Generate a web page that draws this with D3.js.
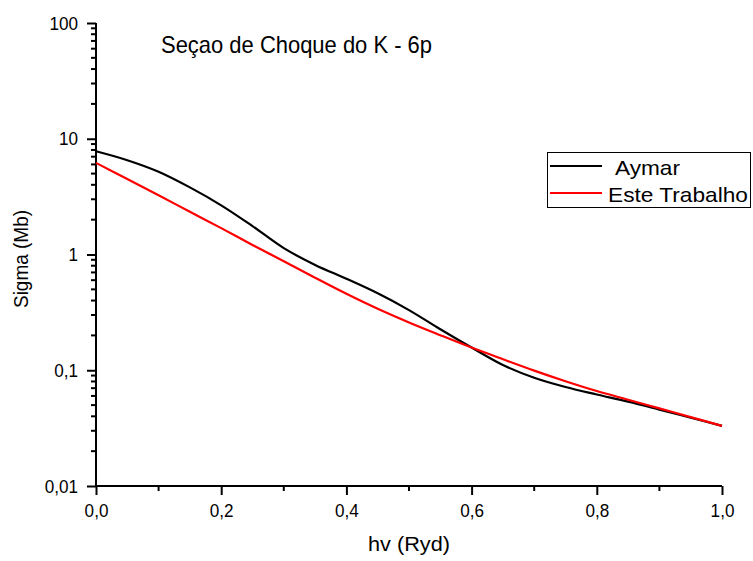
<!DOCTYPE html>
<html>
<head>
<meta charset="utf-8">
<script src="https://cdn.jsdelivr.net/npm/d3@7"></script>
<style>
  body { margin: 0; background: #fff; }
  #viz_container { width: 753px; height: 561px; }
  text { font-family: "Liberation Sans", Arial, sans-serif; fill: #000; }
</style>
</head>
<body>
<div id="viz_container"></div>
<script>
// photon energy (Ryd)
const hv = [0, 0.05, 0.1, 0.15, 0.2, 0.25, 0.3, 0.35, 0.4, 0.45, 0.5,
  0.55, 0.6, 0.65, 0.7, 0.75, 0.8, 0.85, 0.9, 0.95, 1.0];
// cross section (Mb)
const aymar = [7.8, 6.53, 5.19, 3.8, 2.66, 1.76, 1.135, 0.813, 0.617, 0.462, 0.331,
  0.226, 0.157, 0.111, 0.0861, 0.0716, 0.0617, 0.0535, 0.0457, 0.0389, 0.0331];
const esteTrabalho = [6.19, 4.49, 3.25, 2.34, 1.69, 1.21, 0.873, 0.63, 0.458, 0.34, 0.259,
  0.201, 0.157, 0.1245, 0.0993, 0.0804, 0.0661, 0.0556, 0.0468, 0.0394, 0.0331];
const seriesNames = ["Aymar", "Este Trabalho"];
const xTickValues = [0, 0.2, 0.4, 0.6, 0.8, 1.0];
const xMinorValues = [0.1, 0.3, 0.5, 0.7, 0.9];
const yTickValues = [0.01, 0.1, 1, 10, 100];

const width = 753;
const height = 561;
const margin = { left: 96, right: 31, top: 23, bottom: 75 };

const svg = d3
  .select("#viz_container")
  .append("svg")
  .attr("width", width)
  .attr("height", height);

const x = d3.scaleLinear().domain([0, 1]).range([margin.left, width - margin.right]);
const y = d3.scaleLog().domain([0.01, 100]).range([height - margin.bottom, margin.top]);

// squeeze / stretch text horizontally to match the original's lettering
function fitText(sel, factor) {
  sel.each(function () {
    const w = this.getComputedTextLength();
    d3.select(this).attr("textLength", w * factor).attr("lengthAdjust", "spacingAndGlyphs");
  });
}

// minor ticks on log axis: 2..9 in each decade
const yMinor = [];
for (let p = -2; p < 2; p++) {
  for (let k = 2; k <= 9; k++) yMinor.push(k * Math.pow(10, p));
}

// x axis
const gx = svg.append("g").attr("transform", `translate(0,${y(0.01)})`);
gx.call(
  d3.axisBottom(x).tickValues(xTickValues).tickSize(9).tickPadding(9)
    .tickFormat((d) => d3.format(".1f")(d).replace(".", ","))
);
gx.append("g").selectAll("line").data(xMinorValues).enter().append("line")
  .attr("x1", (d) => x(d)).attr("x2", (d) => x(d))
  .attr("y1", 0).attr("y2", 5)
  .attr("stroke", "#000").attr("stroke-width", 2);

// y axis
const gy = svg.append("g").attr("transform", `translate(${x(0)},0)`);
gy.call(
  d3.axisLeft(y).tickValues(yTickValues).tickSize(9).tickPadding(9)
    .tickFormat((d) => String(d).replace(".", ","))
);
gy.append("g").selectAll("line").data(yMinor).enter().append("line")
  .attr("y1", (d) => y(d)).attr("y2", (d) => y(d))
  .attr("x1", 0).attr("x2", -5)
  .attr("stroke", "#000").attr("stroke-width", 2);

gx.select(".domain").attr("d", `M${x(0)},0H${x(1)}`);
gy.select(".domain").attr("d", `M0,${y(0.01)}V${y(100)}`);
svg.selectAll(".domain").attr("stroke", "#000").attr("stroke-width", 2);
svg.selectAll(".tick line").attr("stroke", "#000").attr("stroke-width", 2);
svg.selectAll(".tick text")
  .style("font-family", "Liberation Sans, Arial, sans-serif")
  .style("font-size", "19px")
  .call(fitText, 0.9);

// curves
const line = d3
  .line()
  .x((d) => x(d[0]))
  .y((d) => y(d[1]))
  .curve(d3.curveCatmullRom.alpha(0.5));

const series = [
  { name: seriesNames[0], values: aymar, color: "#000000" },
  { name: seriesNames[1], values: esteTrabalho, color: "#ff0000" },
];

svg.append("g").selectAll("path").data(series).enter().append("path")
  .attr("fill", "none")
  .attr("stroke", (d) => d.color)
  .attr("stroke-width", 2.2)
  .attr("d", (d) => line(hv.map((h, i) => [h, d.values[i]])));

// title
svg.append("text")
  .attr("x", 161).attr("y", 53)
  .style("font-size", "24px")
  .attr("textLength", 271).attr("lengthAdjust", "spacingAndGlyphs")
  .text("Seçao de Choque do K - 6p");

// axis labels
svg.append("text")
  .attr("x", 409).attr("y", 551)
  .attr("text-anchor", "middle")
  .style("font-size", "21px")
  .attr("textLength", 82).attr("lengthAdjust", "spacingAndGlyphs")
  .text("hv (Ryd)");

svg.append("text")
  .attr("transform", "translate(28,259) rotate(-90)")
  .attr("text-anchor", "middle")
  .style("font-size", "21px")
  .attr("textLength", 98).attr("lengthAdjust", "spacingAndGlyphs")
  .text("Sigma (Mb)");

// legend
const legend = svg.append("g");
legend.append("rect")
  .attr("x", 547.5).attr("y", 152.5)
  .attr("width", 203).attr("height", 55)
  .attr("fill", "#fff").attr("stroke", "#000").attr("stroke-width", 1);
const legendRows = legend.selectAll("g").data(series).enter().append("g")
  .attr("transform", (d, i) => `translate(550,${166 + i * 27})`);
legendRows.append("line")
  .attr("x1", 0).attr("x2", 52)
  .attr("stroke", (d) => d.color).attr("stroke-width", 2.2);
legendRows.append("text")
  .attr("x", (d, i) => (i === 0 ? 65 : 58))
  .attr("y", 9)
  .style("font-size", "21px")
  .attr("textLength", (d, i) => (i === 0 ? 65 : 140))
  .attr("lengthAdjust", "spacingAndGlyphs")
  .text((d) => d.name);
</script>
</body>
</html>
